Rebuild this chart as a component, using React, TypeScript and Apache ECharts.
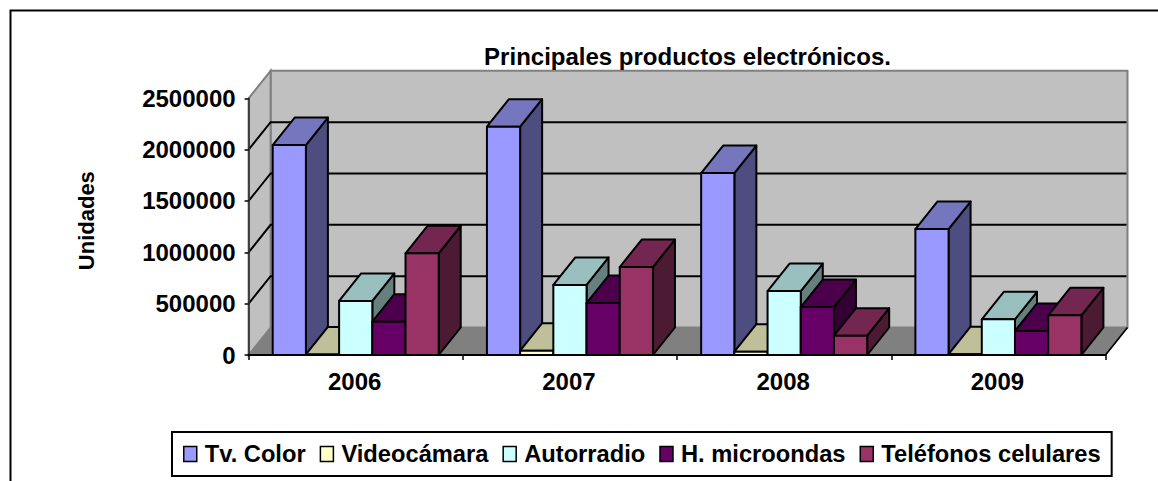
import React, { useEffect, useRef } from "react";
import * as echarts from "echarts";

const categories = ["2006", "2007", "2008", "2009"];
const yTicks = [0, 500000, 1000000, 1500000, 2000000, 2500000];
const tvColor = [2045000, 2223000, 1772000, 1227000];
const videocamara = [6000, 42000, 32000, 8000];
const autorradio = [526000, 682000, 623000, 348000];
const microondas = [324000, 506000, 467000, 234000];
const telefonos = [990000, 857000, 188000, 387000];

const seriesDefs = [
  { name: "Tv. Color", values: tvColor, front: "#9999FF", top: "#7676BF", side: "#4D4D80" },
  { name: "Videocámara", values: videocamara, front: "#FFFFCC", top: "#BFBF99", side: "#808066" },
  { name: "Autorradio", values: autorradio, front: "#CCFFFF", top: "#99BFBF", side: "#668080" },
  { name: "H. microondas", values: microondas, front: "#660066", top: "#4C004C", side: "#330033" },
  { name: "Teléfonos celulares", values: telefonos, front: "#993366", top: "#732650", side: "#4D1A33" },
];

const DX = 22;
const DY = 27.5;
const BAR_FRACTION = 0.155;
const FONT = "Liberation Sans";

export default function App() {
  const ref = useRef<HTMLDivElement>(null);
  useEffect(() => {
    document.body.style.margin = "0";
    const chart = echarts.init(ref.current!, null, { renderer: "svg" });

    const backdrop = (_p: any, api: any) => {
      const band = api.size([1, 0])[0];
      const l = api.coord([0, 0])[0] - band / 2;
      const r = api.coord([categories.length - 1, 0])[0] + band / 2;
      const b = api.coord([0, 0])[1];
      const t = api.coord([0, yTicks[yTicks.length - 1]])[1];
      const poly = (points: number[][], fill: string, stroke: string, w = 1.5) => ({
        type: "polygon",
        shape: { points },
        style: { fill, stroke, lineWidth: w },
      });
      const kids: any[] = [
        poly([[l + DX, t - DY], [r + DX, t - DY], [r + DX, b - DY], [l + DX, b - DY]], "#C0C0C0", "#808080", 2),
        poly([[l, t], [l + DX, t - DY], [l + DX, b - DY], [l, b]], "#C0C0C0", "#808080", 2),
        poly([[l, b], [l + DX, b - DY], [r + DX, b - DY], [r, b]], "#808080", "#808080", 1),
      ];
      yTicks.slice(1, -1).forEach((v) => {
        const y = api.coord([0, v])[1];
        kids.push({
          type: "polyline",
          shape: { points: [[l, y], [l + DX, y - DY], [r + DX - 1, y - DY]] },
          style: { fill: "none", stroke: "#000", lineWidth: 2 },
        });
      });
      kids.push({
        type: "line",
        shape: { x1: r, y1: b, x2: r + DX, y2: b - DY },
        style: { stroke: "#000", lineWidth: 1.7 },
      });
      return { type: "group", children: kids };
    };

    const barRenderer = (index: number, def: (typeof seriesDefs)[number]) => (_p: any, api: any) => {
      const cat = api.value(0);
      const val = api.value(1);
      const base = api.coord([cat, 0]);
      const top = api.coord([cat, val]);
      const w = api.size([1, 0])[0] * BAR_FRACTION;
      const x0 = base[0] - w * 2.5 + index * w;
      const x1 = x0 + w;
      const y0 = base[1];
      const y1 = top[1];
      const mk = (points: number[][], fill: string) => ({
        type: "polygon",
        shape: { points },
        style: { fill, stroke: "#000", lineWidth: 2, lineJoin: "round" },
      });
      return {
        type: "group",
        children: [
          mk([[x1, y0], [x1 + DX, y0 - DY], [x1 + DX, y1 - DY], [x1, y1]], def.side),
          mk([[x0, y1], [x0 + DX, y1 - DY], [x1 + DX, y1 - DY], [x1, y1]], def.top),
          mk([[x0, y0], [x1, y0], [x1, y1], [x0, y1]], def.front),
        ],
      };
    };

    chart.setOption({
      animation: false,
      color: seriesDefs.map((d) => d.front),
      title: {
        text: "Principales productos electrónicos.",
        left: 682.5,
        top: 39,
        textAlign: "center",
        textStyle: { fontFamily: FONT, fontWeight: "bold", fontSize: 24, color: "#000" },
      },
      grid: { left: 248.6, right: 52.5, top: 98.3, bottom: 126 },
      legend: {
        left: 172,
        top: 432,
        padding: [10, 11, 10, 11],
        orient: "horizontal",
        data: seriesDefs.map((d) => d.name),
        icon: "rect",
        itemWidth: 13,
        itemHeight: 15,
        itemGap: 14,
        borderColor: "#000",
        borderWidth: 2,
        itemStyle: { borderColor: "#000", borderWidth: 1.5 },
        textStyle: { fontFamily: FONT, fontWeight: "bold", fontSize: 23.7, color: "#000", padding: [0, 0, 0, 3] },
      },
      xAxis: {
        type: "category",
        data: categories,
        z: 5,
        axisLine: { lineStyle: { color: "#000", width: 2 } },
        axisTick: { show: true, length: 5, alignWithLabel: false, lineStyle: { color: "#000", width: 1.5 } },
        axisLabel: { fontFamily: FONT, fontWeight: "bold", fontSize: 24, color: "#000", margin: 14, padding: [0, 2, 0, 0] },
      },
      yAxis: {
        type: "value",
        min: 0,
        max: 2500000,
        interval: 500000,
        z: 5,
        name: "Unidades",
        nameLocation: "middle",
        nameRotate: 90,
        nameGap: 151,
        nameTextStyle: { fontFamily: FONT, fontWeight: "bold", fontSize: 22, color: "#000", padding: [0, 0, 0, 12] },
        splitLine: { show: false },
        axisLine: { show: true, lineStyle: { color: "#333", width: 1.7 } },
        axisTick: { show: true, length: 4, lineStyle: { color: "#000", width: 1.5 } },
        axisLabel: {
          fontFamily: FONT,
          fontWeight: "bold",
          fontSize: 24,
          color: "#000",
          margin: 13,
          formatter: (v: number) => String(v),
        },
      },
      graphic: [
        {
          type: "polyline",
          silent: true,
          shape: { points: [[10.5, 481], [10.5, 10.5], [1158, 10.5]] },
          style: { fill: "none", stroke: "#000", lineWidth: 2 },
        },
      ],
      series: [
        {
          type: "custom",
          name: "backdrop",
          silent: true,
          clip: false,
          data: [[0, 0]],
          encode: { x: 0, y: 1 },
          renderItem: backdrop,
          z: 1,
        },
        ...seriesDefs.map((def, i) => ({
          type: "custom",
          name: def.name,
          clip: false,
          itemStyle: { color: def.front },
          data: def.values.map((v, c) => [c, v]),
          encode: { x: 0, y: 1 },
          renderItem: barRenderer(i, def),
          z: 2,
        })),
      ],
    });
    return () => chart.dispose();
  }, []);
  return <div ref={ref} style={{ width: 1158, height: 481 }} />;
}
